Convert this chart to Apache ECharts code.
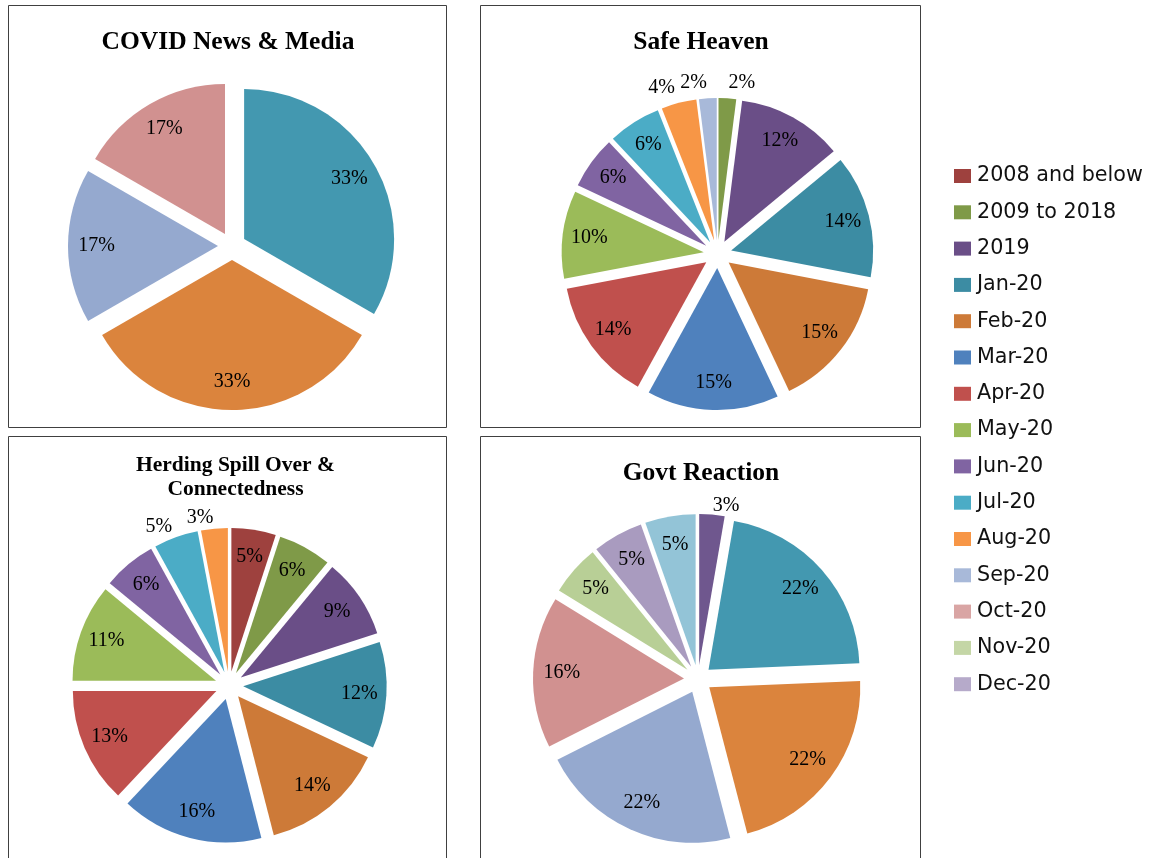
<!DOCTYPE html>
<html>
<head>
<meta charset="utf-8">
<script src="https://cdn.jsdelivr.net/npm/echarts@6/dist/echarts.min.js"></script>
<style>
  html, body { margin: 0; padding: 0; background: #ffffff; }
  #chart { width: 1160px; height: 858px; }
</style>
</head>
<body>
<div id="chart"></div>
<script>
// Legend categories (time buckets)
const categories = ['2008 and below', '2009 to 2018', '2019', 'Jan-20', 'Feb-20', 'Mar-20', 'Apr-20',
  'May-20', 'Jun-20', 'Jul-20', 'Aug-20', 'Sep-20', 'Oct-20', 'Nov-20', 'Dec-20'];

// COVID News & Media
const covidNames = ['Jan-20', 'Feb-20', 'Sep-20', 'Oct-20'];
const covidValues = [2, 2, 1, 1];

// Safe Heaven
const safeNames = ['2009 to 2018', '2019', 'Jan-20', 'Feb-20', 'Mar-20', 'Apr-20', 'May-20', 'Jun-20', 'Jul-20', 'Aug-20', 'Sep-20'];
const safeValues = [2, 12, 14, 15, 15, 14, 10, 6, 6, 4, 2];

// Herding Spill Over & Connectedness
const herdNames = ['2008 and below', '2009 to 2018', '2019', 'Jan-20', 'Feb-20', 'Mar-20', 'Apr-20', 'May-20', 'Jun-20', 'Jul-20', 'Aug-20'];
const herdValues = [5, 6, 9, 12, 14, 16, 13, 11, 6, 5, 3];

// Govt Reaction
const govtNames = ['2019', 'Jan-20', 'Feb-20', 'Sep-20', 'Oct-20', 'Nov-20', 'Dec-20', 'Jan-21'];
const govtValues = [1, 8, 8, 8, 6, 2, 2, 2];

// Small slices whose percentage sits outside the pie
const safeOutside = ['2009 to 2018', 'Aug-20', 'Sep-20'];
const herdOutside = ['Jul-20', 'Aug-20'];
const govtOutside = ['2019'];

// Colours
const baseColors = {
  '2008 and below': '#9E413E', '2009 to 2018': '#7F9A48', '2019': '#6A4E87', 'Jan-20': '#3C8CA3',
  'Feb-20': '#CD7A38', 'Mar-20': '#4F81BD', 'Apr-20': '#C0504D', 'May-20': '#9BBB59',
  'Jun-20': '#8064A2', 'Jul-20': '#4BACC6', 'Aug-20': '#F79646', 'Sep-20': '#A8B9D9',
  'Oct-20': '#D9A5A4', 'Nov-20': '#C4D6A6', 'Dec-20': '#B6AACA'
};
const softColors = {
  '2019': '#6F578E', 'Jan-20': '#4398B0', 'Feb-20': '#DB843D', 'Sep-20': '#95A9CF',
  'Oct-20': '#D19190', 'Nov-20': '#B8CF96', 'Dec-20': '#A99BBF', 'Jan-21': '#93C4D7'
};

const panels = [
  { title: 'COVID News & Media', names: covidNames, values: covidValues, outside: [], colors: softColors,
    center: [232, 246], r: 150, outGap: 16, titlePos: [228, 42], titleSize: 25.5, box: [8.5, 5.5, 438, 422] },
  { title: 'Safe Heaven', names: safeNames, values: safeValues, outside: safeOutside, colors: baseColors,
    center: [717.6, 254], r: 142, outGap: 16, titlePos: [701, 42], titleSize: 25.5, box: [480.5, 5.5, 440, 422] },
  { title: 'Herding Spill Over &\nConnectedness', names: herdNames, values: herdValues, outside: herdOutside, colors: baseColors,
    center: [229.2, 685.4], r: 143.5, outGap: 11, titlePos: [235.5, 477], titleSize: 21.5, box: [8.5, 436.5, 438, 440] },
  { title: 'Govt Reaction', names: govtNames, values: govtValues, outside: govtOutside, colors: softColors,
    center: [698, 679], r: 151, outGap: 9, titlePos: [701, 473], titleSize: 25.5, box: [480.5, 436.5, 440, 440] }
];

const explode = 14;
const pctFormatter = p => Math.round(p.percent) + '%';
const labelFont = { fontFamily: 'Liberation Serif', fontSize: 20, color: '#000000' };

const series = [];
panels.forEach(p => {
  const common = {
    type: 'pie',
    center: p.center,
    startAngle: 90,
    clockwise: true,
    selectedMode: 'multiple',
    selectedOffset: explode,
    avoidLabelOverlap: false,
    animation: false,
    silent: true,
    emphasis: { disabled: true },
    labelLine: { show: false, length: p.outGap, length2: 0 }
  };
  // Exploded sectors (plus the outside labels of the thin slices)
  series.push(Object.assign({}, common, {
    radius: [0, p.r],
    label: Object.assign({ formatter: pctFormatter, distanceToLabelLine: 0 }, labelFont),
    data: p.names.map((n, i) => ({
      name: n,
      value: p.values[i],
      selected: true,
      itemStyle: { color: p.colors[n] || baseColors[n], borderWidth: 0 },
      label: p.outside.includes(n) ? { show: true, position: 'outside' } : { show: false }
    }))
  }));
  // Transparent ring carrying the inside percentage labels
  series.push(Object.assign({}, common, {
    radius: [p.r * 0.58, p.r],
    label: Object.assign({ formatter: pctFormatter, position: 'inside' }, labelFont),
    data: p.names.map((n, i) => ({
      name: n,
      value: p.values[i],
      selected: true,
      itemStyle: { color: 'rgba(0,0,0,0)', borderWidth: 0 },
      label: { show: !p.outside.includes(n) }
    }))
  }));
});

const graphics = [];
panels.forEach(p => {
  graphics.push({
    type: 'rect', z: 0,
    shape: { x: p.box[0], y: p.box[1], width: p.box[2], height: p.box[3] },
    style: { fill: 'none', stroke: '#404040', lineWidth: 1 }
  });
  graphics.push({
    type: 'text', z: 10,
    x: p.titlePos[0], y: p.titlePos[1],
    style: {
      text: p.title, align: 'center', verticalAlign: 'middle',
      font: 'bold ' + p.titleSize + 'px "Liberation Serif"', lineHeight: 24, fill: '#000000'
    }
  });
});

const chart = echarts.init(document.getElementById('chart'), null, { renderer: 'canvas' });
chart.setOption({
  backgroundColor: '#ffffff',
  animation: false,
  legend: {
    orient: 'vertical',
    left: 954,
    top: 165,
    padding: 0,
    itemWidth: 17,
    itemHeight: 14,
    itemGap: 14.3,
    icon: 'rect',
    selectedMode: false,
    data: categories.map(n => ({ name: n, itemStyle: { color: baseColors[n] } })),
    textStyle: { fontFamily: 'DejaVu Sans', fontSize: 20.7, color: '#111111', lineHeight: 22, padding: [0, 0, 0, 1] }
  },
  graphic: graphics,
  series: series
});
</script>
</body>
</html>
